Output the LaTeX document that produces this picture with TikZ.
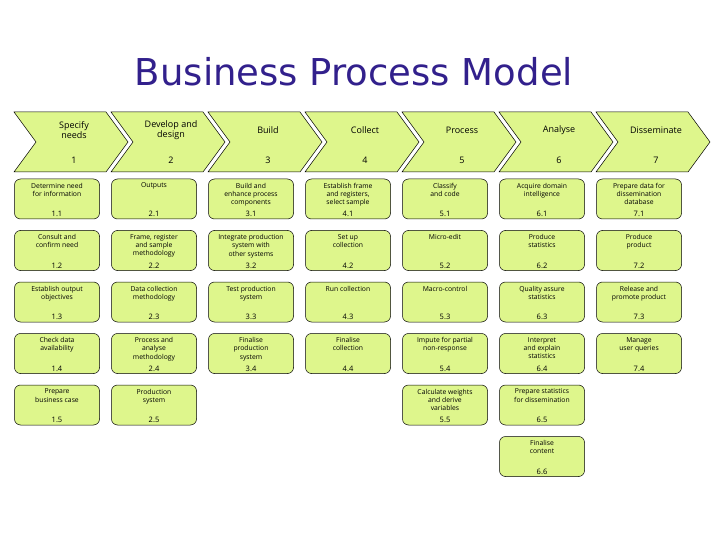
\documentclass[tikz,border=0pt]{standalone}
\usepackage{fontspec}
\setmainfont{Open Sans}
\newfontfamily\titlefont{DejaVu Sans}
\definecolor{lime}{RGB}{222,246,140}
\definecolor{ttl}{RGB}{50,32,140}
\begin{document}
\begin{tikzpicture}[x=1pt,y=-1pt,
  chev/.style={fill=lime,draw=black,line width=0.5pt},
  bx/.style={draw=black,fill=lime,rounded corners=6pt,minimum width=85pt,minimum height=40pt,line width=0.5pt},
  bt/.style={font=\fontsize{6.8}{8.2}\selectfont,align=center,anchor=north,inner sep=1pt},
  bn/.style={font=\fontsize{7.5}{8}\selectfont,anchor=south,inner sep=1pt},
  ct/.style={font=\fontsize{9}{10.5}\selectfont,align=center,inner sep=1pt}]
\useasboundingbox (0,0) rectangle (720,540);
\node[font=\titlefont\fontsize{37}{40}\selectfont,text=ttl] (title) at (354,72) {Business Process Model};
\newcommand\chv[4]{%
  \path[chev] (#1,112) -- ++(92,0) -- ++(22,30) -- ++(-22,30) -- ++(-92,0) -- ++(22,-30) -- cycle;
  \node[ct] (c#2) at ({#1+60},130) {#3};
  \node[ct] (n#2) at ({#1+60},160) {#4};}
\chv{14}{1}{Specify\\needs}{1}
\chv{111}{2}{Develop and\\design}{2}
\chv{208}{3}{Build}{3}
\chv{305}{4}{Collect}{4}
\chv{402}{5}{Process}{5}
\chv{499}{6}{Analyse}{6}
\chv{596}{7}{Disseminate}{7}
\newcommand\bb[4]{%
  \node[bx] (b#1#2) at ({57+97*(#1-1)},{199+51.5*(#2-1)}) {};
  \node[bt] (t#1#2) at ([yshift=-3pt]b#1#2.north) {#3};
  \node[bn] (m#1#2) at ([yshift=1pt]b#1#2.south) {#4};}
\bb{1}{1}{Determine need\\for information}{1.1}
\bb{1}{2}{Consult and\\confirm need}{1.2}
\bb{1}{3}{Establish output\\objectives}{1.3}
\bb{1}{4}{Check data\\availability}{1.4}
\bb{1}{5}{Prepare\\business case}{1.5}
\bb{2}{1}{Outputs}{2.1}
\bb{2}{2}{Frame, register\\and sample\\methodology}{2.2}
\bb{2}{3}{Data collection\\methodology}{2.3}
\bb{2}{4}{Process and\\analyse\\methodology}{2.4}
\bb{2}{5}{Production\\system}{2.5}
\bb{3}{1}{Build and\\enhance process\\components}{3.1}
\bb{3}{2}{Integrate production\\system with\\other systems}{3.2}
\bb{3}{3}{Test production\\system}{3.3}
\bb{3}{4}{Finalise\\production\\system}{3.4}
\bb{4}{1}{Establish frame\\and registers,\\select sample}{4.1}
\bb{4}{2}{Set up\\collection}{4.2}
\bb{4}{3}{Run collection}{4.3}
\bb{4}{4}{Finalise\\collection}{4.4}
\bb{5}{1}{Classify\\and code}{5.1}
\bb{5}{2}{Micro-edit}{5.2}
\bb{5}{3}{Macro-control}{5.3}
\bb{5}{4}{Impute for partial\\non-response}{5.4}
\bb{5}{5}{Calculate weights\\and derive\\variables}{5.5}
\bb{6}{1}{Acquire domain\\intelligence}{6.1}
\bb{6}{2}{Produce\\statistics}{6.2}
\bb{6}{3}{Quality assure\\statistics}{6.3}
\bb{6}{4}{Interpret\\and explain\\statistics}{6.4}
\bb{6}{5}{Prepare statistics\\for dissemination}{6.5}
\bb{6}{6}{Finalise\\content}{6.6}
\bb{7}{1}{Prepare data for\\dissemination\\database}{7.1}
\bb{7}{2}{Produce\\product}{7.2}
\bb{7}{3}{Release and\\promote product}{7.3}
\bb{7}{4}{Manage\\user queries}{7.4}
\end{tikzpicture}
\end{document}
